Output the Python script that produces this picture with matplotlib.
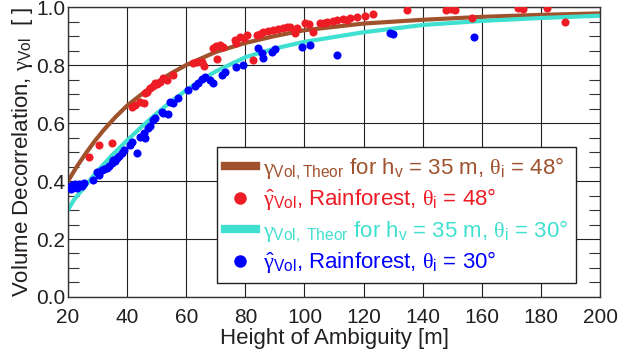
import matplotlib
matplotlib.use("Agg")
import matplotlib.pyplot as plt
from matplotlib.lines import Line2D
from matplotlib.ticker import MultipleLocator

plt.rcParams['font.family'] = ['Liberation Sans', 'DejaVu Sans']
plt.rcParams['mathtext.fontset'] = 'custom'
plt.rcParams['mathtext.rm'] = 'Liberation Sans'
plt.rcParams['mathtext.it'] = 'Liberation Serif'
plt.rcParams['mathtext.bf'] = 'Liberation Sans:bold'

# theoretical curves
theor_hoa_48 = [20, 23, 26, 29, 32, 36, 40, 45, 50, 55, 60, 70, 80, 90, 100, 120, 140, 160, 180, 200]
theor_gam_48 = [0.40, 0.45, 0.495, 0.537, 0.575, 0.62, 0.66, 0.70, 0.74, 0.772, 0.80, 0.845, 0.876,
                0.90, 0.92, 0.943, 0.956, 0.966, 0.973, 0.978]
theor_hoa_30 = [20, 22, 25, 27, 30, 35, 40, 45, 50, 55, 60, 65, 70, 80, 90, 100, 120, 140, 160, 180, 200]
theor_gam_30 = [0.30, 0.335, 0.372, 0.398, 0.435, 0.49, 0.54, 0.588, 0.633, 0.675, 0.713, 0.748, 0.778,
                0.827, 0.857, 0.88, 0.913, 0.938, 0.952, 0.962, 0.970]

# measured rainforest coherences
meas_hoa_48 = [27.0, 30.6, 34.9, 41.5, 42.5, 44.4, 45.7, 46.0, 46.8, 47.7, 48.6, 49.4, 50.2, 51.1, 52.2,
               53.4, 55.6, 62.4, 63.5, 65.2, 65.9, 69.2, 70.3, 70.0, 71.4, 72.3, 76.5, 77.0, 78.2, 79.5,
               80.4, 82.7, 83.8, 85.0, 86.1, 87.5, 89.5, 91.0, 92.8, 94.0, 95.1, 96.8, 97.4, 100.2,
               101.5, 103.0, 105.2, 106.5, 107.5, 109.5, 110.9, 113.1, 114.5, 115.4, 117.7, 120.5,
               123.3, 134.6, 148.0, 149.5, 151.0, 156.6, 172.4, 174.0, 181.9, 188.1]
meas_gam_48 = [0.484, 0.524, 0.530, 0.656, 0.662, 0.673, 0.668, 0.702, 0.708, 0.720, 0.728, 0.737,
               0.735, 0.742, 0.754, 0.748, 0.766, 0.808, 0.812, 0.811, 0.797, 0.858, 0.820, 0.864,
               0.869, 0.862, 0.886, 0.875, 0.898, 0.893, 0.903, 0.817, 0.903, 0.907, 0.913, 0.916,
               0.921, 0.923, 0.926, 0.930, 0.932, 0.909, 0.928, 0.944, 0.940, 0.915, 0.946, 0.944,
               0.949, 0.951, 0.955, 0.957, 0.955, 0.961, 0.964, 0.969, 0.976, 0.988, 0.990, 0.992,
               0.990, 0.961, 0.998, 0.992, 0.995, 0.947]
meas_hoa_30 = [20.5, 21.4, 22.3, 23.0, 23.8, 24.7, 25.5, 21.0, 28.6, 29.7, 30.4, 31.4, 32.1, 33.1, 33.8,
               34.9, 35.3, 36.0, 36.6, 37.4, 38.3, 38.8, 41.0, 41.6, 43.2, 44.4, 46.0, 45.6, 47.2,
               47.7, 48.9, 49.4, 51.7, 52.2, 53.9, 54.5, 55.6, 57.3, 60.7, 63.0, 64.1, 65.2, 66.3,
               68.0, 69.2, 72.0, 73.1, 77.0, 79.3, 84.4, 85.5, 86.1, 88.9, 90.0, 99.0, 101.9, 111.1,
               128.9, 129.8, 157.5]
meas_gam_30 = [0.380, 0.385, 0.390, 0.375, 0.388, 0.382, 0.392, 0.372, 0.403, 0.432, 0.420, 0.438,
               0.440, 0.444, 0.452, 0.461, 0.472, 0.468, 0.478, 0.485, 0.495, 0.507, 0.524, 0.536,
               0.495, 0.553, 0.547, 0.564, 0.582, 0.590, 0.610, 0.616, 0.639, 0.633, 0.631, 0.673,
               0.668, 0.685, 0.714, 0.727, 0.737, 0.752, 0.760, 0.748, 0.737, 0.766, 0.777, 0.794,
               0.800, 0.858, 0.840, 0.823, 0.846, 0.854, 0.863, 0.869, 0.834, 0.911, 0.907, 0.895]

x_ticks = [20, 40, 60, 80, 100, 120, 140, 160, 180, 200]
y_ticks = [0.0, 0.2, 0.4, 0.6, 0.8, 1.0]

c_brown = '#A0522D'
c_red = '#EE1C25'
c_cyan = '#40E0D0'
c_blue = '#0000FF'
c_text = '#231F20'

fig = plt.figure(figsize=(6.2, 3.58), dpi=100)
ax = fig.add_axes([0.1097, 0.1704, 0.8581, 0.81])

ax.plot(theor_hoa_48, theor_gam_48, color=c_brown, lw=3, zorder=2)
ax.plot(theor_hoa_30, theor_gam_30, color=c_cyan, lw=3, zorder=2)
ax.scatter(meas_hoa_48, meas_gam_48, s=34, color=c_red, lw=0, zorder=3)
ax.scatter(meas_hoa_30, meas_gam_30, s=34, color=c_blue, lw=0, zorder=3)

ax.set_xlim(20, 200)
ax.set_ylim(0, 1)
ax.set_xticks(x_ticks)
ax.set_yticks(y_ticks)
ax.set_yticklabels(['%.1f' % v for v in y_ticks])
ax.yaxis.set_minor_locator(MultipleLocator(0.05))
ax.grid(True, which='major', color='#222222', lw=0.8)
ax.set_axisbelow(True)
ax.tick_params(axis='both', which='both', direction='in', colors='#333333',
               labelcolor=c_text, labelsize=15)
ax.tick_params(axis='y', which='both', left=True, right=True, pad=2)
ax.tick_params(axis='y', which='minor', length=8, width=0.8)
ax.tick_params(axis='y', which='major', length=0)
ax.tick_params(axis='x', which='major', length=0, pad=8)
for sp in ax.spines.values():
    sp.set_color('#333333')
    sp.set_linewidth(1)

ax.set_xlabel('Height of Ambiguity [m]', fontsize=16, color=c_text, labelpad=1)
ax.set_ylabel(r'Volume Decorrelation, $\gamma_{\mathrm{Vol}}$  [ ]', fontsize=16,
              color=c_text, labelpad=1)

handles = [
    Line2D([], [], color=c_brown, lw=6),
    Line2D([], [], color=c_red, marker='o', ls='none', markersize=9, mew=0),
    Line2D([], [], color=c_cyan, lw=6),
    Line2D([], [], color=c_blue, marker='o', ls='none', markersize=9, mew=0),
]
labels = [
    r'$\gamma_{\mathrm{Vol,Theor}}$ for h$_\mathrm{v}$ = 35 m, $\theta_\mathrm{i}$ = 48°',
    r'$\hat{\gamma}_{\mathrm{Vol}}$, Rainforest, $\theta_\mathrm{i}$ = 48°',
    r'$\gamma_{\mathrm{Vol,\ Theor}}$ for h$_\mathrm{v}$ = 35 m, $\theta_\mathrm{i}$ = 30°',
    r'$\hat{\gamma}_{\mathrm{Vol}}$, Rainforest, $\theta_\mathrm{i}$ = 30°',
]
leg = ax.legend(handles, labels, loc='lower right', bbox_to_anchor=(0.954, 0.048),
                borderaxespad=0, fontsize=16, handlelength=1.4, handletextpad=0.3,
                labelspacing=0.25, borderpad=0.35, fancybox=False, framealpha=1,
                edgecolor='#231F20', labelcolor=[c_brown, c_red, c_cyan, c_blue])
leg.get_frame().set_linewidth(1)
leg.set_zorder(5)

fig.savefig('out.png', dpi=100)
